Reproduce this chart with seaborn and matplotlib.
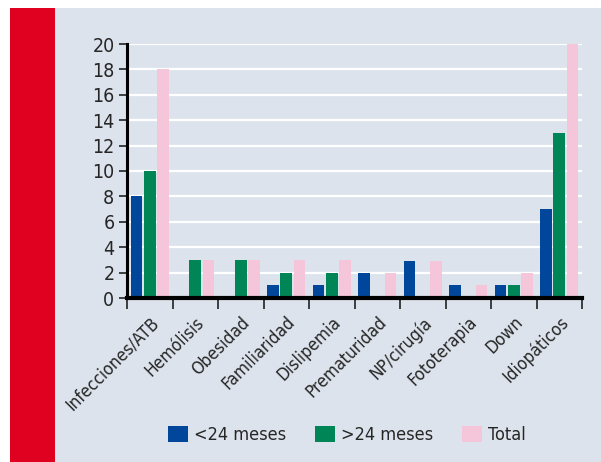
import matplotlib
matplotlib.use("Agg")
import matplotlib.pyplot as plt
from matplotlib.patches import Rectangle, Patch
import seaborn as sns
import pandas as pd

categorias = ["Infecciones/ATB", "Hemólisis", "Obesidad", "Familiaridad", "Dislipemia",
              "Prematuridad", "NP/cirugía", "Fototerapia", "Down", "Idiopáticos"]
menores_24 = [8, 0, 0, 1, 1, 2, 2.9, 1, 1, 7]
mayores_24 = [10, 3, 3, 2, 2, 0, 0, 0, 1, 13]
total = [18, 3, 3, 3, 3, 2, 2.9, 1, 2, 20]
series = ["<24 meses", ">24 meses", "Total"]
y_ticks = list(range(0, 21, 2))

colores = ["#00469a", "#008556", "#f5c6d9"]
fondo = "#dce3ec"

sns.set_theme(style="white")
plt.rcParams["font.family"] = ["DejaVu Sans"]
plt.rcParams["font.stretch"] = "condensed"

df = pd.DataFrame({
    "categoria": categorias * 3,
    "serie": [s for s in series for _ in categorias],
    "valor": menores_24 + mayores_24 + total,
})

fig = plt.figure(figsize=(6.01, 4.62), dpi=100)
fig.patch.set_facecolor("white")
# panel background and red side band
fig.add_artist(Rectangle((10 / 601, 0), 1, 1 - 8 / 462, transform=fig.transFigure,
                         facecolor=fondo, edgecolor="none", zorder=0))
fig.add_artist(Rectangle((10 / 601, 0), 45 / 601, 1 - 8 / 462, transform=fig.transFigure,
                         facecolor="#e0001f", edgecolor="none", zorder=0))

ax = fig.add_axes([127 / 601, 1 - 298 / 462, (582 - 127) / 601, (298 - 44) / 462])
ax.set_facecolor(fondo)

sns.barplot(data=df, x="categoria", y="valor", hue="serie", order=categorias,
            hue_order=series, palette=colores, width=0.87, gap=0.1,
            saturation=1, ax=ax, legend=False, zorder=2,
            edgecolor="none", linewidth=0)

ax.set_xlim(-0.5, len(categorias) - 0.5)
ax.set_ylim(0, 20)
ax.set_yticks(y_ticks)
ax.set_yticklabels([str(t) for t in y_ticks], fontsize=14)
ax.yaxis.grid(True, color="white", linewidth=1.6, zorder=0)
ax.set_axisbelow(True)
ax.set_xlabel("")
ax.set_ylabel("")

ax.set_xticks(range(len(categorias)))
ax.set_xticklabels(categorias, rotation=45, ha="right", rotation_mode="anchor", fontsize=12.5)
ax.tick_params(axis="x", which="major", bottom=True, length=0, pad=11)
ax.set_xticks([i - 0.5 for i in range(len(categorias) + 1)], minor=True)
ax.tick_params(axis="x", which="minor", bottom=True, length=8, width=1.2,
               color="#222222", direction="out")
ax.tick_params(axis="y", left=True, length=6, width=1.2, color="#222222",
               direction="out", pad=3)

for lado in ["top", "right"]:
    ax.spines[lado].set_visible(False)
for lado, grosor in [("left", 2.2), ("bottom", 3)]:
    ax.spines[lado].set_linewidth(grosor)
    ax.spines[lado].set_color("black")
    ax.spines[lado].set_zorder(4)

manejadores = [Patch(facecolor=c, edgecolor="none", label=s) for c, s in zip(colores, series)]
fig.legend(handles=manejadores, loc="center", bbox_to_anchor=(347 / 601, 1 - 435 / 462),
           ncol=3, frameon=False, fontsize=13, handlelength=1.1, handleheight=1.0,
           handletextpad=0.35, columnspacing=1.6)

fig.savefig("out.png", dpi=100, facecolor=fig.get_facecolor())
